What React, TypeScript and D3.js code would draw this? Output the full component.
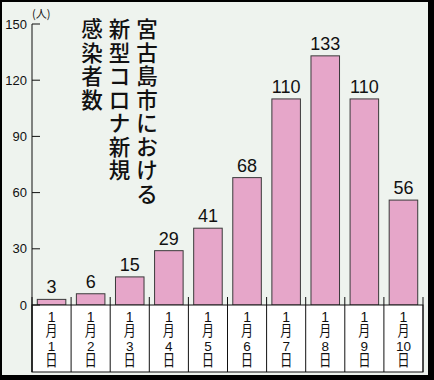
import React from "react";
import * as d3 from "d3";

const categories = ["1", "2", "3", "4", "5", "6", "7", "8", "9", "10"];
const values = [3, 6, 15, 29, 41, 68, 110, 133, 110, 56];
const yTicks = [0, 30, 60, 90, 120, 150];
const titleColumns = ["宮古島市における", "新型コロナ新規", "感染者数"];
const unitLabel = "(人)";
const monthLabel = "1";

const W = 434;
const H = 380;
const NARROW = "'Liberation Sans Narrow', 'Arial Narrow', 'Liberation Sans', sans-serif";
const CJK = "'Noto Sans CJK JP', sans-serif";

export default function App() {
  const x = d3.scaleBand<string>().domain(categories).range([32, 423]).paddingInner(0.27).paddingOuter(0.135);
  const y = d3.scaleLinear().domain([0, 150]).range([305, 24]);
  const tableBottom = 372;
  const step = x.step();
  const x0 = x.range()[0];

  return (
    <svg width={W} height={H} style={{ position: "fixed", left: 0, top: 0 }}>
      <rect x={0} y={0} width={W} height={H} fill="#000" />
      <rect x={2} y={2} width={426} height={373} fill="#eef3ee" />

      {/* title */}
      {titleColumns.map((col, ci) => {
        const cx = 147 - ci * 27.5;
        return Array.from(col).map((ch, i) => (
          <text key={`${ci}-${i}`} x={cx} y={27.5 + i * 23.5} textAnchor="middle" dominantBaseline="central"
            fontFamily={CJK} fontSize={21.5} fontWeight={500} fill="#111">{ch}</text>
        ));
      })}

      {/* bars */}
      {values.map((v, i) => (
        <g key={i}>
          <rect x={x(categories[i])!} y={y(v)} width={x.bandwidth()} height={y(0) - y(v)}
            fill="#e6a6c9" stroke="#3a3a3a" strokeWidth={1} />
          <text x={x(categories[i])! + x.bandwidth() / 2} y={y(v) - 6} textAnchor="middle"
            fontFamily={NARROW} fontSize={18} fill="#111">{v}</text>
        </g>
      ))}

      {/* table */}
      <rect x={32} y={305} width={391} height={tableBottom - 305} fill="#fff" stroke="#111" strokeWidth={1} />
      {d3.range(categories.length + 1).map((i) => (
        <line key={i} x1={x0 + i * step} x2={x0 + i * step} y1={297} y2={tableBottom} stroke="#111" strokeWidth={1} />
      ))}
      {categories.map((c) => {
        const cx = x(c)! + x.bandwidth() / 2;
        return (
          <g key={c}>
            <text x={cx} y={322} textAnchor="middle" fontFamily={NARROW} fontSize={14} fill="#111">{monthLabel}</text>
            <text transform={`translate(${cx},335.5) scale(0.8,1)`} textAnchor="middle" fontFamily={CJK} fontSize={15} fill="#111">月</text>
            <text x={cx} y={351} textAnchor="middle" fontFamily={NARROW} fontSize={13.5} fill="#111">{c}</text>
            <text transform={`translate(${cx},365.5) scale(0.8,1)`} textAnchor="middle" fontFamily={CJK} fontSize={15.5} fill="#111">日</text>
          </g>
        );
      })}

      {/* y axis */}
      <line x1={32} x2={32} y1={y(150)} y2={tableBottom} stroke="#111" strokeWidth={1} />
      {yTicks.map((t) => (
        <g key={t}>
          <line x1={32} x2={40} y1={y(t)} y2={y(t)} stroke="#111" strokeWidth={1} />
          <text x={27} y={y(t)} dy="0.35em" textAnchor="end" fontFamily={NARROW} fontSize={13} fill="#111">{t}</text>
        </g>
      ))}
      <text x={32} y={18} fontFamily={CJK} fontSize={11} fill="#111">{unitLabel}</text>
    </svg>
  );
}
